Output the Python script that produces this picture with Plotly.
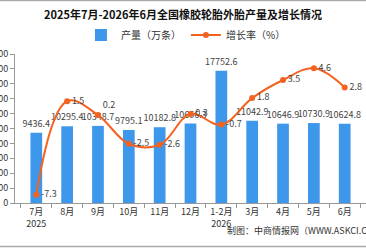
import plotly.graph_objects as go

months = ["7月<br>2025", "8月", "9月", "10月", "11月", "12月", "1-2月<br>2026", "3月", "4月", "5月", "6月"]
output = [9436.4, 10295.4, 10348.7, 9795.1, 10182.8, 10656.3, 17752.6, 11042.9, 10646.9, 10730.9, 10624.8]
growth = [-7.3, 1.5, 0.2, -2.5, -2.6, 0.3, -0.7, 1.8, 3.5, 4.6, 2.8]
y_ticks = [0, 2000, 4000, 6000, 8000, 10000, 12000, 14000, 16000, 18000, 20000]

font_cn = "Noto Sans CJK SC"

fig = go.Figure()
fig.add_trace(go.Bar(
    x=months, y=output, name="产量（万条）",
    marker=dict(color="#3d97eb"),
    text=[f"{v:.1f}" for v in output], textposition="outside", constraintext="none",
    textfont=dict(size=9, color="#444", family=font_cn),
    cliponaxis=False, yaxis="y",
))
positions = ["middle right"] * len(growth)
positions[2] = "top right"
fig.add_trace(go.Scatter(
    x=months, y=growth, name="增长率（%）", mode="lines+markers+text",
    line=dict(color="#f4621f", width=2, shape="spline", smoothing=1.1),
    marker=dict(size=6, color="#f4621f"),
    text=[f"{v:.1f}" for v in growth], textposition=positions,
    textfont=dict(size=9, color="#444", family=font_cn),
    cliponaxis=False, yaxis="y2",
))

fig.update_layout(
    width=366, height=248,
    margin=dict(l=15, r=0, t=54, b=45),
    template="none",
    paper_bgcolor="white", plot_bgcolor="white",
    font=dict(family=font_cn, size=9, color="#333"),
    title=dict(text="<b>2025年7月-2026年6月全国橡胶轮胎外胎产量及增长情况</b>",
               x=0.5, xanchor="center", y=1 - 15 / 248, yanchor="middle",
               font=dict(size=11, color="#111", family=font_cn)),
    showlegend=True,
    legend=dict(orientation="h", x=0.487, xanchor="center", y=(203 - 35) / 149, yanchor="middle",
                font=dict(size=10, color="#333"), bgcolor="rgba(0,0,0,0)", itemwidth=30),
    bargap=0.62,
    xaxis=dict(type="category", showgrid=False, showline=True, linecolor="#999",
               ticks="outside", ticklen=4, tickcolor="#999", tickson="boundaries",
               tickangle=0, tickfont=dict(size=9, color="#333"), automargin=False),
    yaxis=dict(range=[0, 20000], tickvals=y_ticks, ticktext=[str(v) for v in y_ticks],
               showgrid=False, showline=True,
               linecolor="#999", ticks="outside", ticklen=4, tickcolor="#999",
               tickfont=dict(size=9, color="#333"), automargin=False, zeroline=False),
    yaxis2=dict(range=[-8.08, 5.95], overlaying="y", visible=False, showgrid=False, zeroline=False),
    shapes=[
        dict(type="line", xref="paper", yref="paper", x0=-15 / 351, x1=1, y0=(203 - 0.5) / 149, y1=(203 - 0.5) / 149,
             line=dict(color="#aaa", width=1.5)),
        dict(type="line", xref="paper", yref="paper", x0=-15 / 351, x1=1, y0=(203 - 246.5) / 149, y1=(203 - 246.5) / 149,
             line=dict(color="#aaa", width=1.5)),
    ],
    annotations=[
        dict(text="制图：中商情报网（WWW.ASKCI.COM）", xref="paper", yref="paper",
             x=(225 - 15) / 351, y=(203 - 230) / 149, xanchor="left", yanchor="middle",
             showarrow=False, font=dict(size=9, color="#333", family=font_cn)),
    ],
)

fig.write_html("out.html")
